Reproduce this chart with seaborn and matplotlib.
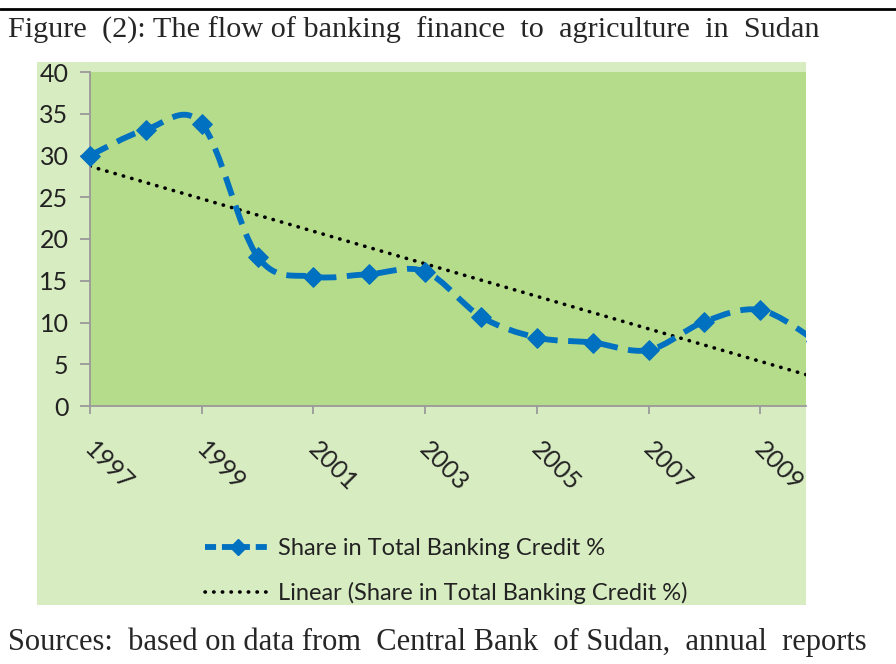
import matplotlib
matplotlib.use("Agg")
import matplotlib.pyplot as plt
from matplotlib.path import Path
from matplotlib.patches import PathPatch, Rectangle
from matplotlib.lines import Line2D
from matplotlib.transforms import ScaledTranslation
import numpy as np
import pandas as pd
import seaborn as sns

# data
years = [1997, 1998, 1999, 2000, 2001, 2002, 2003, 2004, 2005, 2006, 2007, 2008, 2009, 2010]
share = [30.0, 33.1, 33.8, 17.9, 15.5, 15.8, 16.1, 10.7, 8.2, 7.6, 6.7, 10.1, 11.5, 7.8]
x_ticks = [1997, 1999, 2001, 2003, 2005, 2007, 2009]
y_ticks = [0, 5, 10, 15, 20, 25, 30, 35, 40]

series_label = "Share in Total Banking Credit %"
trend_label = "Linear (Share in Total Banking Credit %)"
title = "Figure  (2): The flow of banking  finance  to  agriculture  in  Sudan"
source = "Sources:  based on data from  Central Bank  of Sudan,  annual  reports"

BLUE = "#0070c0"
OUTER = "#d8ecc2"
INNER = "#b4dc8b"
AXIS = "#9a9a9a"

df = pd.DataFrame({"year": years, "share": share})

sns.set_theme(style="white")
plt.rcParams["font.family"] = ["Lato", "DejaVu Sans"]

W, H = 896, 664
fig = plt.figure(figsize=(W / 100, H / 100), dpi=100)
fig.patch.set_facecolor("white")

# light green chart area behind the plot
fig.patches.append(Rectangle((37 / W, 1 - 605 / H), (806 - 37) / W, (605 - 62) / H,
                             transform=fig.transFigure, facecolor=OUTER,
                             edgecolor="none", zorder=0))
fig.add_artist(Line2D([0, 1], [1 - 9 / H, 1 - 9 / H], transform=fig.transFigure,
                      color="black", lw=2))

ax = fig.add_axes([90 / W, 1 - 406 / H, (806 - 90) / W, (406 - 72) / H])
ax.set_zorder(2)
ax.set_facecolor(INNER)


def smooth_path(xs, ys):
    # Excel-style smoothed line: cubic bezier through the points
    pts = np.column_stack([xs, ys]).astype(float)
    n = len(pts)
    verts = [pts[0]]
    codes = [Path.MOVETO]
    for i in range(n - 1):
        p0 = pts[max(i - 1, 0)]
        p1 = pts[i]
        p2 = pts[i + 1]
        p3 = pts[min(i + 2, n - 1)]
        verts += [p1 + (p2 - p0) / 6, p2 - (p3 - p1) / 6, p2]
        codes += [Path.CURVE4] * 3
    return Path(verts, codes)


ax.add_patch(PathPatch(smooth_path(df["year"], df["share"]), facecolor="none",
                       edgecolor=BLUE, lw=4.2, linestyle=(0, (3.4, 1.8)), zorder=3))
sns.scatterplot(data=df, x="year", y="share", marker="D", s=100, color=BLUE,
                edgecolor=BLUE, ax=ax, zorder=4)
# let the first marker stick out over the left axis, but cut at the right edge
ax.collections[-1].set_clip_path(Rectangle((-0.05, -0.1), 1.05, 1.2, transform=ax.transAxes))

# linear trend
sns.regplot(data=df, x="year", y="share", scatter=False, ci=None, ax=ax, truncate=True,
            line_kws=dict(color="black", lw=2.6, linestyle=(0, (0.1, 2.3)),
                          dash_capstyle="round", zorder=2))

ax.set_xlim(1997, 2009.82)
ax.set_ylim(0, 40)
ax.set_xticks(x_ticks)
ax.set_yticks(y_ticks)
ax.set_xlabel("")
ax.set_ylabel("")
ax.grid(False)

for side in ["top", "right"]:
    ax.spines[side].set_visible(False)
for side in ["left", "bottom"]:
    ax.spines[side].set_color(AXIS)
    ax.spines[side].set_linewidth(1.3)

ax.tick_params(axis="y", direction="out", length=7.5, width=1.3, color=AXIS,
               pad=8, labelsize=18, labelcolor="#222222", left=True)
ax.tick_params(axis="x", direction="out", length=6, width=1.3, color=AXIS,
               pad=17, labelsize=18, labelcolor="#222222", bottom=True)
shift = ScaledTranslation(-7 / 72, 0, fig.dpi_scale_trans)
for lab in ax.get_xticklabels():
    lab.set_rotation(-45)
    lab.set_ha("left")
    lab.set_va("top")
    lab.set_transform(lab.get_transform() + shift)

h1 = Line2D([], [], color=BLUE, lw=4.2, linestyle=(0, (1.9, 1.0)), marker="D", markersize=8)
h2 = Line2D([], [], color="black", lw=2.6, linestyle=(0, (0.1, 2.3)), dash_capstyle="round")
fig.legend([h1, h2], [series_label, trend_label], loc="upper left",
           bbox_to_anchor=(184 / W, 1 - 517 / H), bbox_transform=fig.transFigure,
           frameon=False, fontsize=17, handlelength=2.8, handletextpad=0.3,
           labelspacing=0.95, labelcolor="#222222")

fig.text(8 / W, 1 - 38 / H, title, fontfamily="Liberation Serif", fontsize=21.8,
         va="baseline", ha="left")
fig.text(8 / W, 1 - 650 / H, source, fontfamily="Liberation Serif", fontsize=22,
         va="baseline", ha="left")

fig.savefig("out.png", dpi=100)
